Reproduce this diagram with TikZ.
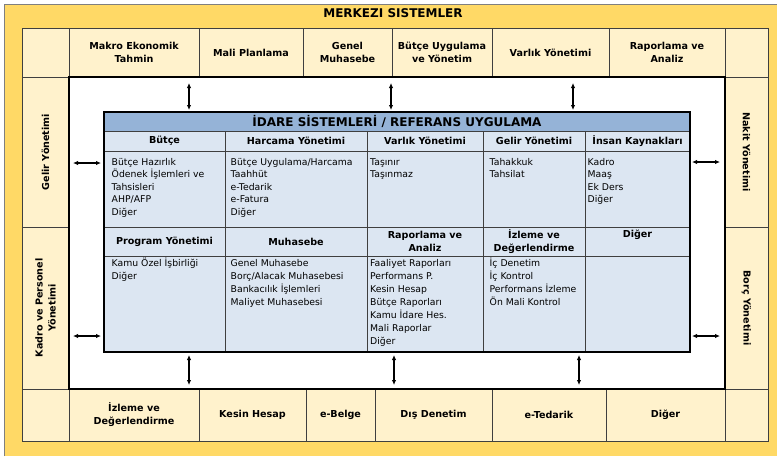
\documentclass[tikz,border=0pt]{standalone}
\usepackage{fontspec}
\setmainfont{DejaVu Sans}
\usetikzlibrary{arrows.meta}
\definecolor{framebg}{HTML}{FFD966}
\definecolor{cream}{HTML}{FFF2CC}
\definecolor{cellblue}{HTML}{DCE6F2}
\definecolor{headblue}{HTML}{95B3D7}
\definecolor{gridc}{HTML}{3F3F3F}
\definecolor{framegray}{HTML}{7F7F7F}
\newcommand\fl{\rule{0pt}{9pt}}
\begin{document}
\begin{tikzpicture}[x=1pt,y=-1pt,
  outerbox/.style={draw=gridc, line width=0.8pt, fill=cream, inner sep=0pt,
    align=center, font=\bfseries\fontsize{9.6}{13}\selectfont},
  hdrtxt/.style={align=center, inner sep=0pt, font=\bfseries\fontsize{9.6}{13}\selectfont},
  tcell/.style={draw=gridc, line width=0.7pt, fill=cellblue, inner sep=0pt,
    align=center, font=\bfseries\fontsize{9.6}{13}\selectfont},
  bodytxt/.style={anchor=north west, align=left, inner sep=0pt},
  rowone/.style={font=\fontsize{9.3}{12.5}\selectfont},
  rowtwo/.style={font=\fontsize{9.3}{13}\selectfont},
  dblarrow/.style={{Latex[length=5pt,width=4.5pt]}-{Latex[length=5pt,width=4.5pt]}, line width=1.2pt, black}
]
\useasboundingbox (0,0) rectangle (777,456);

% yellow frame
\node[fill=framebg, inner sep=0pt, minimum width=772pt, minimum height=451pt] (frame) at (391,230.5) {};
\draw[framegray, line width=1.2pt] (frame.south west) -- (frame.north west) -- (frame.north east);
\node[font=\bfseries\fontsize{12}{14}\selectfont, inner sep=0pt] (title) at (393,13) {MERKEZI SISTEMLER};

% top row
\node[outerbox, minimum width=47pt,  minimum height=49pt] (tl) at (45.5,52.5) {};
\node[outerbox, minimum width=130pt, minimum height=49pt] (t1) at (134,52.5) {Makro Ekonomik\\Tahmin};
\node[outerbox, minimum width=104pt, minimum height=49pt] (t2) at (251,52.5) {Mali Planlama};
\node[outerbox, minimum width=89pt,  minimum height=49pt] (t3) at (347.5,52.5) {Genel\\Muhasebe};
\node[outerbox, minimum width=100pt, minimum height=49pt] (t4) at (442,52.5) {Bütçe Uygulama\\ve Yönetim};
\node[outerbox, minimum width=117pt, minimum height=49pt] (t5) at (550.5,52.5) {Varlık Yönetimi};
\node[outerbox, minimum width=116pt, minimum height=49pt] (t6) at (667,52.5) {Raporlama ve\\Analiz};
\node[outerbox, minimum width=43pt,  minimum height=49pt] (tr) at (746.5,52.5) {};

% bottom row
\node[outerbox, minimum width=47pt,  minimum height=52pt] (bl) at (45.5,415) {};
\node[outerbox, minimum width=130pt, minimum height=52pt] (b1) at (134,415) {İzleme ve\\Değerlendirme};
\node[outerbox, minimum width=107pt, minimum height=52pt] (b2) at (252.5,415) {Kesin Hesap};
\node[outerbox, minimum width=69pt,  minimum height=52pt] (b3) at (340.5,415) {e-Belge};
\node[outerbox, minimum width=117pt, minimum height=52pt] (b4) at (433.5,415) {Dış Denetim};
\node[outerbox, minimum width=114pt, minimum height=52pt] (b5) at (549,415) {e-Tedarik};
\node[outerbox, minimum width=119pt, minimum height=52pt] (b6) at (665.5,415) {Diğer};
\node[outerbox, minimum width=43pt,  minimum height=52pt] (br) at (746.5,415) {};

% side columns
\node[outerbox, minimum width=47pt, minimum height=150pt] (l1) at (45.5,152) {};
\node[outerbox, minimum width=47pt, minimum height=162pt] (l2) at (45.5,308) {};
\node[outerbox, minimum width=43pt, minimum height=150pt] (r1) at (746.5,152) {};
\node[outerbox, minimum width=43pt, minimum height=162pt] (r2) at (746.5,308) {};
\node[hdrtxt, rotate=90] (l1t) at (l1.center) {Gelir Yönetimi};
\node[hdrtxt, rotate=90] (l2t) at (l2.center) {Kadro ve Personel\\Yönetimi};
\node[hdrtxt, rotate=-90] (r1t) at (r1.center) {Nakit Yönetimi};
\node[hdrtxt, rotate=-90] (r2t) at (r2.center) {Borç Yönetimi};

% white core
\node[draw=black, line width=2pt, fill=white, inner sep=0pt,
  minimum width=656pt, minimum height=312pt] (core) at (397,233) {};

% reference table: title row
\node[tcell, fill=headblue, minimum width=586pt, minimum height=19pt,
  font=\bfseries\fontsize{12}{14}\selectfont] (ttl) at (397,121.5) {İDARE SİSTEMLERİ / REFERANS UYGULAMA};

% header row 1
\node[tcell, minimum width=121pt, minimum height=20pt] (h11) at (164.5,141) {Bütçe};
\node[tcell, minimum width=142pt, minimum height=20pt] (h12) at (296,141) {Harcama Yönetimi};
\node[tcell, minimum width=116pt, minimum height=20pt] (h13) at (425,141) {Varlık Yönetimi};
\node[tcell, minimum width=102pt, minimum height=20pt] (h14) at (534,141) {Gelir Yönetimi};
\node[tcell, minimum width=105pt, minimum height=20pt] (h15) at (637.5,141) {İnsan Kaynakları};

% content row 1
\node[tcell, minimum width=121pt, minimum height=76pt] (c11) at (164.5,189) {};
\node[tcell, minimum width=142pt, minimum height=76pt] (c12) at (296,189) {};
\node[tcell, minimum width=116pt, minimum height=76pt] (c13) at (425,189) {};
\node[tcell, minimum width=102pt, minimum height=76pt] (c14) at (534,189) {};
\node[tcell, minimum width=105pt, minimum height=76pt] (c15) at (637.5,189) {};
\node[bodytxt, rowone] (c11t) at (111.5,156) {\fl Bütçe Hazırlık\\Ödenek İşlemleri ve\\Tahsisleri\\AHP/AFP\\Diğer};
\node[bodytxt, rowone] (c12t) at (230.5,156) {\fl Bütçe Uygulama/Harcama\\Taahhüt\\e-Tedarik\\e-Fatura\\Diğer};
\node[bodytxt, rowone] (c13t) at (370,156) {\fl Taşınır\\Taşınmaz};
\node[bodytxt, rowone] (c14t) at (489.5,156) {\fl Tahakkuk\\Tahsilat};
\node[bodytxt, rowone] (c15t) at (587.5,156) {\fl Kadro\\Maaş\\Ek Ders\\Diğer};

% header row 2
\node[tcell, minimum width=121pt, minimum height=29pt] (h21) at (164.5,241.5) {Program Yönetimi};
\node[tcell, minimum width=142pt, minimum height=29pt] (h22) at (296,241.5) {Muhasebe};
\node[tcell, minimum width=116pt, minimum height=29pt] (h23) at (425,241.5) {Raporlama ve\\Analiz};
\node[tcell, minimum width=102pt, minimum height=29pt] (h24) at (534,241.5) {İzleme ve\\Değerlendirme};
\node[tcell, minimum width=105pt, minimum height=29pt] (h25) at (637.5,241.5) {};
\node[hdrtxt] (h25t) at (637.5,235) {Diğer};

% content row 2
\node[tcell, minimum width=121pt, minimum height=96pt] (c21) at (164.5,304) {};
\node[tcell, minimum width=142pt, minimum height=96pt] (c22) at (296,304) {};
\node[tcell, minimum width=116pt, minimum height=96pt] (c23) at (425,304) {};
\node[tcell, minimum width=102pt, minimum height=96pt] (c24) at (534,304) {};
\node[tcell, minimum width=105pt, minimum height=96pt] (c25) at (637.5,304) {};
\node[bodytxt, rowtwo] (c21t) at (111.5,257.7) {\fl Kamu Özel İşbirliği\\Diğer};
\node[bodytxt, rowtwo] (c22t) at (230.5,257.7) {\fl Genel Muhasebe\\Borç/Alacak Muhasebesi\\Bankacılık İşlemleri\\Maliyet Muhasebesi};
\node[bodytxt, rowtwo] (c23t) at (370,257.7) {\fl Faaliyet Raporları\\Performans P.\\Kesin Hesap\\Bütçe Raporları\\Kamu İdare Hes.\\Mali Raporlar\\Diğer};
\node[bodytxt, rowtwo] (c24t) at (489.5,257.7) {\fl İç Denetim\\İç Kontrol\\Performans İzleme\\Ön Mali Kontrol};

% thick table outline
\node[draw=black, line width=2pt, inner sep=0pt, minimum width=586pt, minimum height=240pt] (tbl) at (397,232) {};

% links between the table and the surrounding systems
\coordinate (u1a) at (189,83);  \coordinate (u1b) at (189,110);
\coordinate (u2a) at (391,83);  \coordinate (u2b) at (391,110);
\coordinate (u3a) at (573,83);  \coordinate (u3b) at (573,110);
\coordinate (d1a) at (189,355); \coordinate (d1b) at (189,385);
\coordinate (d2a) at (394,355); \coordinate (d2b) at (394,385);
\coordinate (d3a) at (579,355); \coordinate (d3b) at (579,385);
\coordinate (w1a) at (73,163);  \coordinate (w1b) at (101,163);
\coordinate (w2a) at (73,336);  \coordinate (w2b) at (101,336);
\coordinate (e1a) at (692,162); \coordinate (e1b) at (720,162);
\coordinate (e2a) at (692,336); \coordinate (e2b) at (720,336);
\foreach \p in {u1,u2,u3,d1,d2,d3,w1,w2,e1,e2}
  \draw[dblarrow] (\p a) -- (\p b);
\end{tikzpicture}
\end{document}
